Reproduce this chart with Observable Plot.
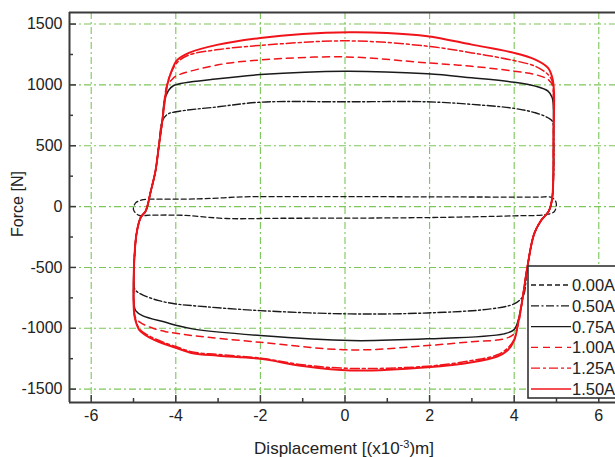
<!DOCTYPE html>
<html><head><meta charset="utf-8">
<script src="https://cdn.jsdelivr.net/npm/d3@7"></script>
<script src="https://cdn.jsdelivr.net/npm/@observablehq/plot@0.6"></script>
<style>
html,body{margin:0;padding:0;background:#fff;overflow:hidden;}
#wrap{position:relative;width:615px;height:457px;overflow:hidden;font-family:"Liberation Sans",Arial,sans-serif;color:#222;}
#xlabel{position:absolute;left:194px;width:300px;top:440px;text-align:center;font-size:17px;line-height:17px;white-space:nowrap;}
#xlabel sup{font-size:11px;vertical-align:6px;line-height:0;}
#ylabel{position:absolute;left:-42px;width:120px;top:196px;text-align:center;font-size:16px;line-height:16px;transform:rotate(-90deg);white-space:nowrap;}
#legend{position:absolute;left:527px;top:265px;}
</style></head>
<body>
<div id="wrap">
  <div id="chart"></div>
  <div id="ylabel">Force [N]</div>
  <div id="xlabel">Displacement [(x10<sup>-3</sup>)m]</div>
  <div id="legend"></div>
</div>
<script>
// ---- data ----
const seriesNames = ["0.00A", "0.50A", "0.75A", "1.00A", "1.25A", "1.50A"];

const x000 = [-4.63, -3.5, -3.0, -2.4, -1.0, 0, 2, 4, 4.6, 4.88, 4.99, 4.95, 4.74, 4, 2, 0, -1.5, -2.8, -3.8, -4.6, -4.87, -5.0, -4.95, -4.8, -4.63];
const y000 = [61, 63, 70, 80, 82, 82, 80, 78, 78, 76, 35, -40, -66, -76, -90, -95, -96, -98, -72, -70, -72, -25, 30, 55, 61];

const x050 = [-4.99, -4.93, -4.83, -4.71, -4.59, -4.48, -4.40, -4.32, -4.2, -4.0, -3.0, -2.0, 0, 1.95, 3.0, 4.0, 4.5, 4.8, 4.9, 4.93, 4.9, 4.82, 4.63, 4.47, 4.31, 4.23, 4.15, 4.0, 3.44, 1.95, 0.13, -2.0, -3.61, -4.0, -4.40, -4.83, -4.97, -4.99, -4.99];
const y050 = [-500, -226, -90, -35, 129, 293, 500, 703, 758, 779, 820, 858, 861, 861, 840, 807, 771, 730, 703, 600, 74, -35, -117, -226, -500, -720, -762, -800, -841, -874, -882, -855, -814, -800, -773, -718, -680, -620, -500];

const x075 = [-4.99, -4.93, -4.83, -4.71, -4.59, -4.48, -4.40, -4.32, -4.27, -4.18, -4.05, -3.0, -2.0, 0, 1.95, 3.0, 4.0, 4.5, 4.8, 4.9, 4.93, 4.93, 4.9, 4.82, 4.63, 4.47, 4.31, 4.19, 4.12, 4.0, 3.76, 1.95, 0.13, -2.0, -3.61, -4.0, -4.24, -4.79, -4.95, -4.99, -4.99];
const y075 = [-500, -226, -90, -35, 129, 293, 500, 703, 867, 950, 995, 1050, 1085, 1113, 1091, 1058, 1022, 990, 949, 894, 750, 500, 74, -35, -117, -226, -500, -773, -900, -1010, -1046, -1087, -1101, -1060, -1005, -975, -951, -896, -855, -800, -500];

const x100 = [-4.99, -4.93, -4.83, -4.71, -4.59, -4.48, -4.40, -4.32, -4.2, -4.1, -4.0, -3.0, -2.0, 0, 1.95, 3.0, 4.0, 4.5, 4.8, 4.9, 4.93, 4.93, 4.9, 4.82, 4.63, 4.47, 4.31, 4.19, 4.1, 4.0, 3.76, 3.0, 1.95, 0.13, -2.0, -3.6, -4.0, -4.24, -4.6, -4.85, -4.97, -4.99, -4.99];
const y100 = [-500, -226, -90, -35, 129, 293, 500, 703, 1004, 1040, 1072, 1165, 1205, 1230, 1181, 1153, 1113, 1085, 1045, 1000, 850, 600, 74, -35, -117, -226, -500, -773, -960, -1045, -1087, -1110, -1142, -1178, -1115, -1060, -1040, -1028, -992, -950, -900, -800, -500];

const x125 = [-4.99, -4.93, -4.83, -4.71, -4.59, -4.48, -4.40, -4.32, -4.2, -4.1, -3.95, -3.7, -3.0, -2.0, 0.1, 1.95, 3.0, 4.0, 4.5, 4.8, 4.9, 4.93, 4.93, 4.9, 4.82, 4.63, 4.47, 4.31, 4.19, 4.09, 4.0, 3.84, 3.6, 3.0, 1.95, 0.13, -1.0, -2.0, -3.0, -3.6, -4.0, -4.3, -4.63, -4.85, -4.95, -4.99, -4.99];
const y125 = [-500, -226, -90, -35, 129, 293, 500, 703, 1004, 1110, 1190, 1245, 1290, 1325, 1362, 1318, 1263, 1200, 1153, 1085, 1030, 900, 600, 74, -35, -117, -226, -500, -773, -964, -1090, -1165, -1218, -1265, -1312, -1330, -1300, -1245, -1215, -1195, -1150, -1115, -1062, -1010, -930, -850, -500];

const x150 = [-4.99, -4.93, -4.83, -4.71, -4.59, -4.48, -4.40, -4.32, -4.2, -4.1, -3.98, -3.69, -3.0, -2.0, -1.0, 0.1, 1.0, 1.95, 3.0, 4.0, 4.5, 4.8, 4.9, 4.94, 4.93, 4.9, 4.82, 4.63, 4.47, 4.31, 4.19, 4.09, 4.0, 3.84, 3.6, 3.0, 1.95, 0.13, -1.0, -2.0, -3.0, -3.6, -4.0, -4.3, -4.63, -4.85, -4.95, -4.99, -4.99];
const y150 = [-500, -226, -90, -35, 129, 293, 500, 703, 1004, 1113, 1200, 1263, 1331, 1386, 1419, 1433, 1427, 1400, 1331, 1263, 1208, 1140, 1060, 950, 600, 74, -35, -117, -226, -500, -773, -964, -1100, -1183, -1232, -1279, -1320, -1347, -1310, -1251, -1225, -1205, -1160, -1125, -1074, -1020, -940, -855, -500];

const seriesX = [x000, x050, x075, x100, x125, x150];
const seriesY = [y000, y050, y075, y100, y125, y150];

const xMajor = [-6, -4, -2, 0, 2, 4, 6];
const xMinor = [-5, -3, -1, 1, 3, 5];
const yMajor = [-1500, -1000, -500, 0, 500, 1000, 1500];
const yMinor = [-1250, -750, -250, 250, 750, 1250];
const xDomain = [-6.513, 6.395];
const yDomain = [-1610, 1595];

// ---- styles ----
const strokes = ["#1a1a1a", "#1a1a1a", "#1a1a1a", "#f0141a", "#f0141a", "#f0141a"];
const dashes = ["5,3", "8,2.5,2,2.5", null, "7,5", "9,3,3,3", null];
const widths = [1.3, 1.4, 1.5, 1.5, 1.5, 2];
const gridColor = "#7cc65a";
const axisColor = "#3a3a3a";

const W = 615, H = 457, mL = 69, mR = 0, mT = 12, mB = 55;
const innerW = W - mL - mR, innerH = H - mT - mB;

const lineMarks = seriesNames.map((name, i) => {
  const rows = seriesX[i].map((x, j) => ({series: name, x, y: seriesY[i][j]}));
  return Plot.line(rows, {
    x: "x", y: "y", curve: "catmull-rom",
    stroke: strokes[i], strokeWidth: widths[i],
    strokeDasharray: dashes[i] || undefined,
    strokeLinejoin: "round"
  });
});

const chart = Plot.plot({
  width: W, height: H,
  marginLeft: mL, marginRight: mR, marginTop: mT, marginBottom: mB,
  x: {domain: xDomain},
  y: {domain: yDomain},
  style: {fontFamily: "'Liberation Sans', Arial, sans-serif", fontSize: "16px", color: "#222", background: "white", overflow: "hidden"},
  marks: [
    Plot.gridX(xMajor, {stroke: gridColor, strokeOpacity: 1, strokeWidth: 1.1, strokeDasharray: "7,3,2,3"}),
    Plot.gridY(yMajor, {stroke: gridColor, strokeOpacity: 1, strokeWidth: 1.1, strokeDasharray: "7,3,2,3"}),
    ...lineMarks,
    Plot.tickX(xMajor, {x: d => d, insetTop: innerH - 7, stroke: axisColor, strokeWidth: 1.5}),
    Plot.tickX(xMinor, {x: d => d, insetTop: innerH - 4, stroke: axisColor, strokeWidth: 1.5}),
    Plot.tickY(yMajor, {y: d => d, insetRight: innerW - 7, stroke: axisColor, strokeWidth: 1.5}),
    Plot.tickY(yMinor, {y: d => d, insetRight: innerW - 4, stroke: axisColor, strokeWidth: 1.5}),
    Plot.ruleX([xDomain[0]], {stroke: axisColor, strokeWidth: 2}),
    Plot.ruleY([yDomain[0], yDomain[1]], {stroke: axisColor, strokeWidth: 2}),
    Plot.axisX(xMajor, {tickSize: 0, tickPadding: 7, label: null, tickFormat: d => String(d)}),
    Plot.axisY(yMajor, {tickSize: 0, tickPadding: 7, label: null, tickFormat: d => String(d)})
  ]
});
document.getElementById("chart").appendChild(chart);

// ---- legend ----
const rowH = 20.8, top0 = 20;
const leg = d3.select("#legend").append("svg")
  .attr("width", 95).attr("height", 136)
  .style("font-family", "'Liberation Sans', Arial, sans-serif");
leg.append("rect").attr("x", 1).attr("y", 1).attr("width", 120).attr("height", 132)
  .attr("fill", "white").attr("stroke", "#333").attr("stroke-width", 1.6);
seriesNames.forEach((name, i) => {
  const y = top0 + i * rowH;
  leg.append("line").attr("x1", 4).attr("x2", 44).attr("y1", y).attr("y2", y)
    .attr("stroke", strokes[i]).attr("stroke-width", i === 5 ? 1.6 : 1.3)
    .attr("stroke-dasharray", dashes[i] || null);
  leg.append("text").attr("x", 45).attr("y", y).attr("dy", "0.36em")
    .attr("font-size", 16.5).attr("fill", "#222").text(name);
});
</script>
</body></html>
